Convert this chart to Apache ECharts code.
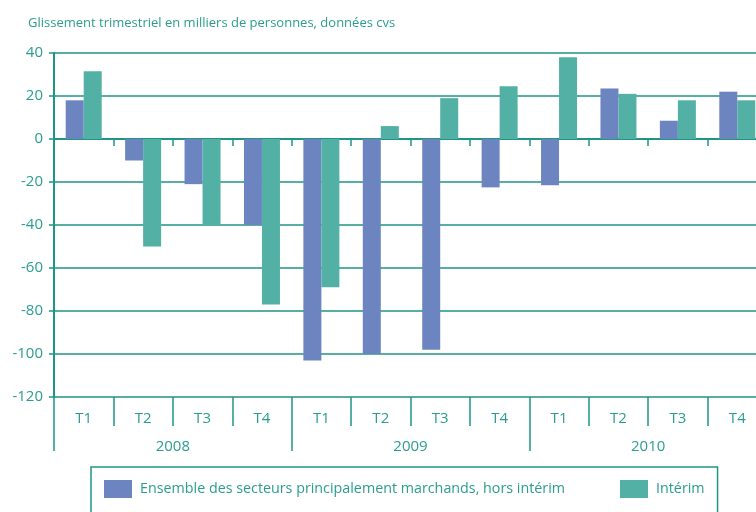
<!DOCTYPE html>
<html>
<head>
<meta charset="utf-8">
<script src="https://cdn.jsdelivr.net/npm/echarts@6/dist/echarts.min.js"></script>
<style>
  html, body { margin: 0; padding: 0; background: #fff; }
  #chart { width: 756px; height: 512px; }
</style>
</head>
<body>
<div id="chart"></div>
<script>
// trimestres et années
var quarters = ['T1', 'T2', 'T3', 'T4', 'T1', 'T2', 'T3', 'T4', 'T1', 'T2', 'T3', 'T4'];
var years = ['2008', '2009', '2010'];
// glissement trimestriel, milliers de personnes
var ensemble = [18, -10, -21, -40, -103, -100, -98, -22.5, -21.5, 23.5, 8.5, 22];
var interim = [31.5, -50, -40, -77, -69, 6, 19, 24.5, 38, 21, 18, 18];

var teal = '#1f9585';
var txt = '#2a9d8f';
var font = 'Open Sans';

var myChart = echarts.init(document.getElementById('chart'));
var option = {
  animation: false,
  textStyle: { fontFamily: font },
  title: {
    text: 'Glissement trimestriel en milliers de personnes, données cvs',
    left: 23,
    top: 12,
    textStyle: { fontFamily: font, fontSize: 13, fontWeight: 'normal', color: txt }
  },
  legend: {
    left: 91,
    top: 467,
    itemWidth: 28,
    itemHeight: 18,
    itemGap: 55,
    padding: [13, 13, 20, 13],
    borderColor: teal,
    borderWidth: 1.5,
    icon: 'rect',
    textStyle: { fontFamily: font, fontSize: 14.3, color: txt, padding: [0, 0, 0, 3] },
    data: ['Ensemble des secteurs principalement marchands, hors intérim', 'Intérim']
  },
  // la grille déborde à droite : le dernier T4 est coupé
  grid: { left: 54, top: 53, width: 713, bottom: 115, outerBoundsMode: 'none' },
  xAxis: [
    {
      type: 'category',
      data: quarters,
      axisLine: { onZero: true, lineStyle: { color: teal, width: 2 } },
      axisTick: { show: true, length: 7, lineStyle: { color: teal, width: 1.5 } },
      axisLabel: { show: false }
    },
    {
      type: 'category',
      position: 'bottom',
      data: quarters,
      axisLine: { show: false, onZero: false },
      axisTick: { show: true, length: 29, lineStyle: { color: teal, width: 1.5 } },
      axisLabel: { margin: 14, fontSize: 15, color: txt, fontFamily: font }
    },
    {
      type: 'category',
      position: 'bottom',
      data: years,
      axisLine: { show: false, onZero: false },
      axisTick: { show: true, length: 54, lineStyle: { color: teal, width: 1.5 } },
      axisLabel: { margin: 42, fontSize: 15, color: txt, fontFamily: font }
    }
  ],
  yAxis: {
    type: 'value',
    min: -120,
    max: 40,
    interval: 20,
    axisLine: { show: true, lineStyle: { color: teal, width: 2 } },
    axisTick: { show: true, length: 5, lineStyle: { color: teal, width: 1.5 } },
    axisLabel: { margin: 11, fontSize: 15, color: txt, fontFamily: font },
    splitLine: { show: true, lineStyle: { color: teal, width: 1.5 } }
  },
  series: [
    {
      name: 'Ensemble des secteurs principalement marchands, hors intérim',
      type: 'bar',
      xAxisIndex: 0,
      data: ensemble,
      barWidth: 18,
      barGap: '0%',
      itemStyle: { color: '#6c84c0' }
    },
    {
      name: 'Intérim',
      type: 'bar',
      xAxisIndex: 0,
      data: interim,
      barWidth: 18,
      barGap: '0%',
      itemStyle: { color: '#52b0a5' }
    }
  ]
};
myChart.setOption(option);
</script>
</body>
</html>
